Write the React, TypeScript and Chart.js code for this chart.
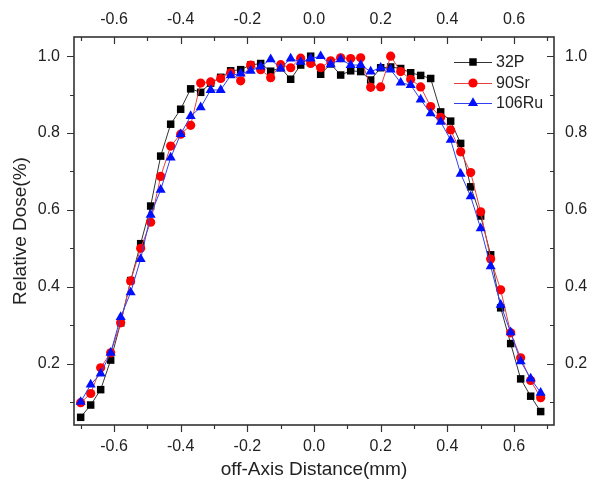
import React, { useEffect, useRef } from "react";
import { Chart, registerables } from "chart.js";

Chart.register(...registerables);

const xValues = [
  -0.70, -0.67, -0.64, -0.61, -0.58, -0.55, -0.52, -0.49, -0.46, -0.43,
  -0.40, -0.37, -0.34, -0.31, -0.28, -0.25, -0.22, -0.19, -0.16, -0.13,
  -0.10, -0.07, -0.04, -0.01, 0.02, 0.05, 0.08, 0.11, 0.14, 0.17,
  0.20, 0.23, 0.26, 0.29, 0.32, 0.35, 0.38, 0.41, 0.44, 0.47,
  0.50, 0.53, 0.56, 0.59, 0.62, 0.65, 0.68,
];

const p32 = [
  0.060, 0.092, 0.132, 0.209, 0.306, 0.416, 0.512, 0.610, 0.740, 0.823,
  0.862, 0.915, 0.906, 0.930, 0.945, 0.962, 0.965, 0.977, 0.981, 0.961,
  0.970, 0.940, 0.977, 1.000, 0.953, 0.980, 0.951, 0.962, 0.960, 0.938,
  0.970, 0.972, 0.968, 0.957, 0.950, 0.942, 0.855, 0.831, 0.773, 0.660,
  0.584, 0.483, 0.345, 0.252, 0.160, 0.115, 0.075,
];

const sr90 = [
  0.098, 0.122, 0.189, 0.228, 0.306, 0.415, 0.500, 0.568, 0.687, 0.766,
  0.797, 0.820, 0.930, 0.933, 0.942, 0.957, 0.936, 0.977, 0.965, 0.944,
  0.978, 0.970, 0.995, 0.981, 0.970, 0.988, 0.996, 0.994, 0.996, 0.919,
  0.920, 1.000, 0.960, 0.940, 0.920, 0.869, 0.841, 0.808, 0.751, 0.697,
  0.595, 0.472, 0.392, 0.280, 0.215, 0.156, 0.111,
];

const ru106 = [
  0.100, 0.145, 0.174, 0.228, 0.321, 0.385, 0.472, 0.587, 0.652, 0.736,
  0.797, 0.844, 0.867, 0.912, 0.912, 0.950, 0.955, 0.962, 0.973, 0.992,
  0.968, 0.994, 0.985, 0.994, 1.000, 0.979, 0.992, 0.977, 0.977, 0.960,
  0.970, 0.965, 0.931, 0.925, 0.887, 0.851, 0.829, 0.782, 0.694, 0.635,
  0.552, 0.453, 0.353, 0.281, 0.206, 0.161, 0.124,
];

const seriesNames = ["32P", "90Sr", "106Ru"];
const xMajorTicks = [-0.6, -0.4, -0.2, 0.0, 0.2, 0.4, 0.6];
const xMinorTicks = [-0.7, -0.5, -0.3, -0.1, 0.1, 0.3, 0.5, 0.7];
const yMajorTicks = [0.2, 0.4, 0.6, 0.8, 1.0];
const yMinorTicks = [0.1, 0.3, 0.5, 0.7, 0.9];
const xTitle = "off-Axis Distance(mm)";
const yTitle = "Relative Dose(%)";

const FONT = "'Liberation Sans', Arial, sans-serif";
const TEXT = "#222";
const styles = [
  { line: "#333333", fill: "#000000", shape: "rect", r: 5.3 },
  { line: "#e8403f", fill: "#ff0000", shape: "circle", r: 4.6 },
  { line: "#3040f0", fill: "#0010ff", shape: "triangle", r: 5.8 },
];

function drawMarker(ctx: CanvasRenderingContext2D, shape: string, x: number, y: number, r: number) {
  ctx.beginPath();
  if (shape === "rect") {
    const s = Math.SQRT1_2 * r;
    ctx.rect(x - s, y - s, 2 * s, 2 * s);
  } else if (shape === "circle") {
    ctx.arc(x, y, r, 0, Math.PI * 2);
  } else {
    const a = Math.PI / 6;
    ctx.moveTo(x, y - r);
    ctx.lineTo(x + Math.cos(a) * r, y + Math.sin(a) * r);
    ctx.lineTo(x - Math.cos(a) * r, y + Math.sin(a) * r);
    ctx.closePath();
  }
  ctx.fill();
}

const framePlugin = {
  id: "frameTicksLegend",
  afterDraw(chart: any) {
    const { ctx, chartArea, scales } = chart;
    const { left, right, top, bottom } = chartArea;
    const xs = scales.x;
    const ys = scales.y;
    ctx.save();
    ctx.strokeStyle = "#333";
    ctx.lineWidth = 1.2;
    ctx.beginPath();
    const xTick = (v: number, len: number) => {
      const px = Math.round(xs.getPixelForValue(v)) + 0.5;
      ctx.moveTo(px, bottom);
      ctx.lineTo(px, bottom + len);
      ctx.moveTo(px, top);
      ctx.lineTo(px, top + len);
    };
    const yTick = (v: number, len: number) => {
      const py = Math.round(ys.getPixelForValue(v)) + 0.5;
      ctx.moveTo(left, py);
      ctx.lineTo(left - len, py);
      ctx.moveTo(right, py);
      ctx.lineTo(right - len, py);
    };
    xMajorTicks.forEach((v) => xTick(v, 7));
    xMinorTicks.forEach((v) => xTick(v, 4));
    yMajorTicks.forEach((v) => yTick(v, 7));
    yMinorTicks.forEach((v) => yTick(v, 4));
    ctx.stroke();
    ctx.lineWidth = 1.6;
    ctx.strokeRect(left, top, right - left, bottom - top);

    // legend
    const lx0 = right - 100;
    const lx1 = right - 62;
    const rowY = [top + 25, top + 46, top + 66];
    ctx.font = `16px ${FONT}`;
    ctx.textBaseline = "middle";
    ctx.textAlign = "left";
    seriesNames.forEach((name, i) => {
      const st = styles[i];
      const y = rowY[i];
      ctx.strokeStyle = st.line;
      ctx.lineWidth = 1;
      ctx.beginPath();
      ctx.moveTo(lx0, y + 0.5);
      ctx.lineTo(lx1, y + 0.5);
      ctx.stroke();
      ctx.fillStyle = st.fill;
      drawMarker(ctx, st.shape, (lx0 + lx1) / 2, y, st.r);
      ctx.fillStyle = TEXT;
      ctx.fillText(name, lx1 + 4, y + 1);
    });
    ctx.restore();
  },
};

export default function App() {
  const canvasRef = useRef<HTMLCanvasElement | null>(null);

  useEffect(() => {
    if (!canvasRef.current) return;
    const seriesData = [p32, sr90, ru106];
    const datasets = seriesData.map((arr, i) => ({
      label: seriesNames[i],
      data: arr.map((v, k) => ({ x: xValues[k], y: v })),
      xAxisID: "x",
      yAxisID: "y",
      borderColor: styles[i].line,
      borderWidth: 1,
      backgroundColor: styles[i].fill,
      pointBackgroundColor: styles[i].fill,
      pointBorderColor: styles[i].fill,
      pointBorderWidth: 0,
      pointStyle: styles[i].shape,
      pointRadius: styles[i].r,
      fill: false,
      tension: 0,
      order: 3 - i,
    }));

    const tickFont = { family: FONT, size: 16 };
    const titleFont = { family: FONT, size: 19 };
    const fmt = (v: any) => Number(v).toFixed(1);

    const chart = new Chart(canvasRef.current, {
      type: "line",
      data: { datasets },
      plugins: [framePlugin],
      options: {
        animation: false,
        responsive: false,
        devicePixelRatio: 1,
        layout: { padding: 0 },
        plugins: { legend: { display: false }, tooltip: { enabled: false } },
        scales: {
          x: {
            type: "linear",
            position: "bottom",
            min: -0.72,
            max: 0.72,
            grid: { display: false },
            border: { display: false },
            ticks: { font: tickFont, color: TEXT, padding: 4, autoSkip: false, maxRotation: 0, callback: fmt },
            afterBuildTicks: (s: any) => { s.ticks = xMajorTicks.map((v) => ({ value: v })); },
            afterFit: (s: any) => { s.height = 61; },
            title: { display: true, text: xTitle, font: titleFont, color: TEXT, padding: { top: 0, bottom: 5 } },
          },
          x2: {
            type: "linear",
            position: "top",
            min: -0.72,
            max: 0.72,
            display: true,
            grid: { display: false },
            border: { display: false },
            ticks: { font: tickFont, color: TEXT, padding: 0, autoSkip: false, maxRotation: 0, callback: fmt },
            afterBuildTicks: (s: any) => { s.ticks = xMajorTicks.map((v) => ({ value: v })); },
            afterFit: (s: any) => { s.height = 37; },
          },
          y: {
            type: "linear",
            position: "left",
            min: 0.04,
            max: 1.05,
            grid: { display: false },
            border: { display: false },
            ticks: { font: tickFont, color: TEXT, padding: 6, autoSkip: false, callback: fmt },
            afterBuildTicks: (s: any) => { s.ticks = yMajorTicks.map((v) => ({ value: v })); },
            afterFit: (s: any) => { s.width = 74; },
            title: { display: true, text: yTitle, font: titleFont, color: TEXT, padding: { top: 9, bottom: 0 } },
          },
          y2: {
            type: "linear",
            position: "right",
            min: 0.04,
            max: 1.05,
            display: true,
            grid: { display: false },
            border: { display: false },
            ticks: { font: tickFont, color: TEXT, padding: 3, autoSkip: false, callback: fmt },
            afterBuildTicks: (s: any) => { s.ticks = yMajorTicks.map((v) => ({ value: v })); },
            afterFit: (s: any) => { s.width = 47; },
          },
        },
      } as any,
    });
    return () => chart.destroy();
  }, []);

  return (
    <div style={{ position: "absolute", left: 0, top: 0, width: 601, height: 486, background: "#fff" }}>
      <canvas ref={canvasRef} width={601} height={486} style={{ width: 601, height: 486, display: "block" }} />
    </div>
  );
}
